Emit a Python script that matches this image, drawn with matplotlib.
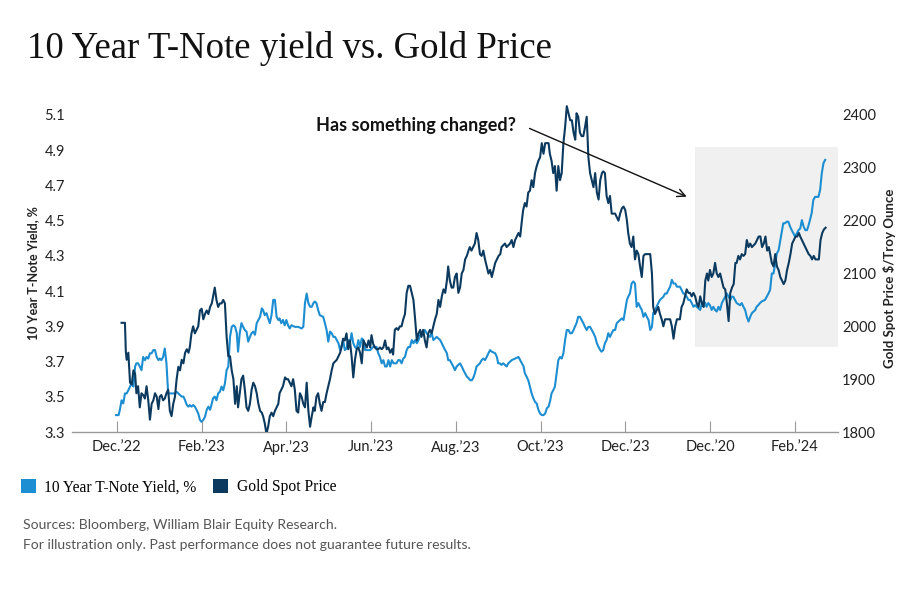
import matplotlib
matplotlib.use("Agg")
import matplotlib.pyplot as plt
from matplotlib.patches import Patch, Rectangle

# months since Dec '22 tick
yield_t = [0.11, 0.19, 0.21, 0.23, 0.27, 0.31, 0.35, 0.39, 0.43, 0.46, 0.50, 0.54, 0.58, 0.62, 0.66, 0.70,
           0.74, 0.78, 0.82, 0.86, 0.90, 0.94, 0.98, 1.01, 1.05, 1.09, 1.13, 1.17, 1.21, 1.25, 1.29, 1.33,
           1.37, 1.41, 1.45, 1.49, 1.53, 1.57, 1.61, 1.65, 1.69, 1.72, 1.76, 1.80, 1.84, 1.88, 1.92, 1.96,
           2.00, 2.04, 2.08, 2.12, 2.16, 2.20, 2.24, 2.27, 2.31, 2.35, 2.39, 2.43, 2.47, 2.51, 2.55, 2.59,
           2.63, 2.67, 2.71, 2.75, 2.79, 2.83, 2.86, 2.90, 2.94, 2.98, 3.02, 3.06, 3.10, 3.14, 3.18, 3.22,
           3.26, 3.30, 3.34, 3.38, 3.42, 3.45, 3.49, 3.53, 3.57, 3.61, 3.65, 3.69, 3.73, 3.77, 3.81, 3.84,
           3.88, 3.92, 3.97, 4.00, 4.04, 4.08, 4.12, 4.16, 4.20, 4.24, 4.28, 4.32, 4.36, 4.40, 4.44, 4.48,
           4.52, 4.56, 4.60, 4.64, 4.67, 4.71, 4.75, 4.79, 4.83, 4.87, 4.91, 4.95, 4.99, 5.03, 5.07, 5.11,
           5.15, 5.19, 5.23, 5.27, 5.30, 5.34, 5.38, 5.42, 5.46, 5.50, 5.54, 5.58, 5.62, 5.66, 5.70, 5.74,
           5.78, 5.82, 5.86, 5.90, 5.94, 5.98, 6.01, 6.05, 6.09, 6.13, 6.17, 6.21, 6.25, 6.29, 6.33, 6.37,
           6.41, 6.45, 6.49, 6.52, 6.56, 6.60, 6.64, 6.68, 6.72, 6.76, 6.80, 6.84, 6.88, 6.92, 6.96, 7.00,
           7.04, 7.08, 7.12, 7.16, 7.19, 7.23, 7.27, 7.31, 7.35, 7.39, 7.43, 7.47, 7.51, 7.55, 7.59, 7.63,
           7.67, 7.71, 7.75, 7.79, 7.82, 7.86, 7.90, 7.94, 7.98, 8.02, 8.06, 8.10, 8.14, 8.18, 8.22, 8.26,
           8.30, 8.33, 8.37, 8.41, 8.45, 8.49, 8.53, 8.57, 8.61, 8.65, 8.69, 8.73, 8.77, 8.81, 8.85, 8.89,
           8.93, 8.97, 9.01, 9.05, 9.08, 9.16, 9.20, 9.28, 9.32, 9.36, 9.40, 9.44, 9.48, 9.52, 9.56, 9.59,
           9.63, 9.67, 9.71, 9.75, 9.79, 9.83, 9.87, 9.91, 9.95, 9.99, 10.03, 10.07, 10.11, 10.15, 10.19, 10.22,
           10.26, 10.30, 10.34, 10.38, 10.42, 10.46, 10.50, 10.54, 10.58, 10.62, 10.66, 10.70, 10.74, 10.78, 10.82, 10.85,
           10.89, 10.93, 10.97, 11.01, 11.05, 11.09, 11.13, 11.17, 11.21, 11.25, 11.29, 11.33, 11.37, 11.41, 11.45, 11.48,
           11.52, 11.56, 11.60, 11.64, 11.68, 11.72, 11.76, 11.80, 11.84, 11.88, 11.92, 11.96, 12.00, 12.04, 12.07, 12.11,
           12.15, 12.19, 12.23, 12.27, 12.31, 12.35, 12.39, 12.43, 12.47, 12.55, 12.59, 12.63, 12.66, 12.70, 12.74, 12.78,
           12.82, 12.86, 12.90, 12.94, 12.98, 13.06, 13.10, 13.14, 13.18, 13.22, 13.29, 13.33, 13.37, 13.41, 13.45, 13.49,
           13.53, 13.57, 13.61, 13.65, 13.69, 13.73, 13.77, 13.81, 13.85, 13.89, 13.93, 13.96, 14.00, 14.04, 14.08, 14.12,
           14.16, 14.20, 14.24, 14.28, 14.32, 14.36, 14.40, 14.44, 14.48, 14.52, 14.56, 14.60, 14.63, 14.67, 14.71, 14.75,
           14.79, 14.83, 14.87, 14.91, 14.95, 14.99, 15.07, 15.15, 15.19, 15.23, 15.27, 15.31, 15.35, 15.39, 15.42, 15.46,
           15.50, 15.54, 15.58, 15.62, 15.66, 15.70, 15.74, 15.78, 15.82, 15.86, 15.90, 15.94, 15.98, 16.02, 16.06, 16.10,
           16.13, 16.17, 16.21, 16.25, 16.29, 16.33, 16.37, 16.41, 16.45, 16.49, 16.57, 16.61, 16.65, 16.69, 16.73]
yield_pct = [3.92, 3.92, 3.76, 3.71, 3.75, 3.58, 3.57, 3.65, 3.63, 3.52, 3.56, 3.44, 3.52, 3.51, 3.49, 3.56,
             3.48, 3.37, 3.46, 3.48, 3.52, 3.50, 3.43, 3.50, 3.51, 3.48, 3.49, 3.52, 3.54, 3.42, 3.39, 3.46,
             3.50, 3.60, 3.67, 3.65, 3.71, 3.69, 3.75, 3.77, 3.75, 3.78, 3.86, 3.90, 3.86, 3.88, 3.90, 3.99,
             4.00, 3.94, 3.97, 3.99, 3.97, 4.01, 4.03, 4.07, 4.12, 4.05, 4.01, 4.03, 4.03, 4.05, 4.03, 3.84,
             3.73, 3.73, 3.65, 3.60, 3.46, 3.56, 3.44, 3.52, 3.60, 3.62, 3.54, 3.44, 3.42, 3.46, 3.54, 3.58,
             3.56, 3.52, 3.46, 3.42, 3.41, 3.39, 3.35, 3.29, 3.33, 3.39, 3.41, 3.39, 3.42, 3.44, 3.46, 3.52,
             3.54, 3.56, 3.61, 3.60, 3.60, 3.58, 3.56, 3.60, 3.54, 3.42, 3.41, 3.52, 3.50, 3.46, 3.44, 3.58,
             3.42, 3.33, 3.39, 3.44, 3.42, 3.50, 3.52, 3.46, 3.42, 3.47, 3.47, 3.52, 3.56, 3.60, 3.65, 3.69,
             3.70, 3.71, 3.73, 3.75, 3.78, 3.83, 3.82, 3.86, 3.77, 3.82, 3.73, 3.61, 3.71, 3.77, 3.78, 3.75,
             3.69, 3.82, 3.80, 3.78, 3.82, 3.78, 3.85, 3.80, 3.78, 3.77, 3.77, 3.78, 3.77, 3.78, 3.82, 3.77,
             3.78, 3.75, 3.77, 3.74, 3.88, 3.89, 3.88, 3.90, 3.90, 3.94, 3.97, 4.09, 4.13, 4.13, 4.09, 4.05,
             3.94, 3.82, 3.86, 3.88, 3.84, 3.88, 3.82, 3.78, 3.86, 3.88, 3.86, 3.90, 3.94, 3.97, 4.05, 4.01,
             4.07, 4.11, 4.09, 4.16, 4.24, 4.16, 4.12, 4.12, 4.18, 4.20, 4.09, 4.12, 4.20, 4.22, 4.28, 4.30,
             4.33, 4.35, 4.33, 4.35, 4.37, 4.43, 4.39, 4.31, 4.30, 4.33, 4.28, 4.24, 4.20, 4.22, 4.18, 4.22,
             4.26, 4.28, 4.30, 4.31, 4.35, 4.37, 4.35, 4.37, 4.39, 4.35, 4.39, 4.41, 4.43, 4.41, 4.50, 4.56,
             4.60, 4.58, 4.66, 4.67, 4.73, 4.69, 4.77, 4.81, 4.84, 4.86, 4.94, 4.88, 4.94, 4.94, 4.94, 4.88,
             4.84, 4.77, 4.81, 4.67, 4.81, 4.73, 4.77, 4.94, 5.03, 5.15, 5.11, 5.07, 5.07, 5.00, 4.96, 5.11,
             5.09, 5.00, 4.98, 4.98, 5.03, 5.09, 4.86, 4.77, 4.73, 4.69, 4.77, 4.66, 4.62, 4.73, 4.77, 4.78,
             4.77, 4.64, 4.60, 4.64, 4.54, 4.54, 4.54, 4.52, 4.50, 4.54, 4.57, 4.58, 4.56, 4.50, 4.43, 4.37,
             4.35, 4.41, 4.28, 4.33, 4.31, 4.24, 4.18, 4.30, 4.31, 4.31, 4.31, 4.20, 4.01, 3.97, 3.99, 4.01,
             3.97, 3.94, 3.90, 3.94, 3.94, 3.94, 3.90, 3.83, 3.90, 3.94, 3.94, 4.01, 4.03, 4.07, 4.11, 4.09,
             4.09, 4.07, 4.09, 4.07, 4.03, 4.01, 4.07, 4.03, 4.01, 4.16, 4.20, 4.16, 4.22, 4.18, 4.20, 4.26,
             4.20, 4.18, 4.20, 4.16, 4.12, 4.11, 4.03, 3.93, 4.09, 4.12, 4.14, 4.26, 4.26, 4.30, 4.28, 4.31,
             4.30, 4.31, 4.39, 4.35, 4.37, 4.35, 4.37, 4.41, 4.41, 4.35, 4.37, 4.41, 4.33, 4.35, 4.31, 4.26,
             4.24, 4.31, 4.24, 4.22, 4.18, 4.16, 4.14, 4.16, 4.22, 4.26, 4.31, 4.37, 4.39, 4.41, 4.41, 4.43,
             4.41, 4.39, 4.37, 4.35, 4.33, 4.31, 4.30, 4.28, 4.30, 4.28, 4.28, 4.39, 4.43, 4.45, 4.46]

gold_t = [-0.02, 0.04, 0.07, 0.11, 0.15, 0.19, 0.23, 0.27, 0.31, 0.35, 0.39, 0.43, 0.46, 0.50, 0.54, 0.58,
          0.62, 0.66, 0.70, 0.74, 0.78, 0.82, 0.86, 0.90, 0.94, 0.98, 1.01, 1.05, 1.09, 1.13, 1.17, 1.21,
          1.29, 1.37, 1.41, 1.45, 1.53, 1.57, 1.61, 1.65, 1.69, 1.72, 1.76, 1.80, 1.84, 1.88, 1.92, 1.96,
          2.00, 2.04, 2.08, 2.12, 2.16, 2.20, 2.24, 2.27, 2.31, 2.35, 2.39, 2.43, 2.47, 2.51, 2.55, 2.59,
          2.63, 2.67, 2.71, 2.75, 2.79, 2.83, 2.86, 2.90, 2.94, 2.98, 3.02, 3.06, 3.10, 3.14, 3.18, 3.22,
          3.26, 3.30, 3.34, 3.38, 3.42, 3.45, 3.49, 3.53, 3.57, 3.61, 3.65, 3.69, 3.73, 3.77, 3.81, 3.84,
          3.88, 3.92, 3.96, 4.00, 4.04, 4.08, 4.12, 4.20, 4.28, 4.36, 4.40, 4.44, 4.48, 4.52, 4.56, 4.60,
          4.64, 4.67, 4.71, 4.75, 4.79, 4.87, 4.91, 4.95, 4.99, 5.03, 5.07, 5.11, 5.15, 5.19, 5.23, 5.27,
          5.30, 5.34, 5.38, 5.42, 5.46, 5.50, 5.54, 5.58, 5.62, 5.66, 5.70, 5.74, 5.78, 5.82, 5.86, 5.90,
          5.98, 6.05, 6.13, 6.17, 6.21, 6.25, 6.29, 6.33, 6.37, 6.41, 6.45, 6.49, 6.53, 6.60, 6.64, 6.68,
          6.72, 6.76, 6.80, 6.84, 6.88, 6.92, 6.96, 7.00, 7.04, 7.08, 7.12, 7.16, 7.19, 7.23, 7.27, 7.31,
          7.39, 7.43, 7.47, 7.55, 7.63, 7.67, 7.71, 7.79, 7.82, 7.86, 7.90, 7.94, 7.98, 8.02, 8.10, 8.14,
          8.18, 8.22, 8.26, 8.30, 8.34, 8.38, 8.41, 8.45, 8.49, 8.57, 8.61, 8.65, 8.69, 8.73, 8.77, 8.81,
          8.85, 8.93, 8.97, 9.00, 9.04, 9.08, 9.12, 9.20, 9.24, 9.32, 9.40, 9.48, 9.52, 9.56, 9.60, 9.63,
          9.67, 9.71, 9.75, 9.79, 9.83, 9.87, 9.91, 9.95, 9.99, 10.03, 10.07, 10.11, 10.15, 10.19, 10.23, 10.26,
          10.30, 10.34, 10.38, 10.42, 10.46, 10.50, 10.54, 10.58, 10.62, 10.66, 10.70, 10.74, 10.78, 10.81, 10.85, 10.89,
          10.93, 10.97, 11.01, 11.05, 11.09, 11.13, 11.17, 11.21, 11.25, 11.29, 11.33, 11.37, 11.41, 11.44, 11.48, 11.52,
          11.56, 11.60, 11.64, 11.68, 11.72, 11.76, 11.80, 11.84, 11.88, 11.92, 11.96, 12.00, 12.04, 12.07, 12.11, 12.15,
          12.19, 12.23, 12.27, 12.31, 12.35, 12.39, 12.43, 12.47, 12.51, 12.55, 12.59, 12.63, 12.66, 12.70, 12.74, 12.78,
          12.82, 12.90, 12.94, 12.98, 13.02, 13.06, 13.10, 13.14, 13.18, 13.22, 13.29, 13.33, 13.37, 13.41, 13.45, 13.49,
          13.53, 13.57, 13.61, 13.65, 13.69, 13.73, 13.77, 13.81, 13.85, 13.89, 13.92, 13.96, 14.00, 14.04, 14.08, 14.12,
          14.16, 14.20, 14.24, 14.28, 14.32, 14.36, 14.40, 14.44, 14.48, 14.51, 14.55, 14.59, 14.63, 14.71, 14.75, 14.79,
          14.83, 14.87, 14.91, 14.95, 14.99, 15.03, 15.07, 15.10, 15.14, 15.18, 15.22, 15.30, 15.34, 15.38, 15.42, 15.46,
          15.50, 15.54, 15.58, 15.62, 15.66, 15.70, 15.73, 15.77, 15.81, 15.85, 15.89, 15.93, 15.97, 16.01, 16.05, 16.09,
          16.13, 16.17, 16.21, 16.25, 16.29, 16.32, 16.36, 16.40, 16.44, 16.48, 16.52, 16.56, 16.60, 16.64, 16.68, 16.72]
gold_usd = [1832, 1832, 1842, 1860, 1854, 1873, 1873, 1879, 1886, 1892, 1886, 1924, 1930, 1930, 1924, 1917,
            1942, 1936, 1942, 1939, 1949, 1949, 1955, 1955, 1942, 1936, 1939, 1936, 1942, 1958, 1930, 1873,
            1873, 1873, 1876, 1873, 1867, 1867, 1860, 1851, 1848, 1851, 1848, 1851, 1848, 1842, 1835, 1823,
            1819, 1823, 1829, 1842, 1848, 1842, 1854, 1864, 1867, 1860, 1873, 1876, 1886, 1879, 1892, 1917,
            1924, 1980, 1999, 2002, 1999, 1987, 1952, 1987, 2006, 1999, 1993, 1990, 1971, 1980, 1987, 1990,
            1984, 2006, 2012, 2018, 2034, 2031, 2021, 2025, 2015, 2006, 2021, 2050, 2050, 2018, 2012, 2015,
            2006, 2012, 2002, 2012, 2002, 1996, 2002, 1999, 1999, 1996, 1999, 2044, 2062, 2044, 2037, 2037,
            2044, 2047, 2044, 2031, 2021, 2018, 2006, 1993, 1971, 1990, 1987, 1980, 1980, 1974, 1968, 1955,
            1961, 1974, 1955, 1958, 1974, 1968, 1987, 1968, 1961, 1958, 1974, 1961, 1977, 1974, 1955, 1955,
            1955, 1961, 1961, 1949, 1942, 1930, 1936, 1924, 1924, 1936, 1924, 1936, 1930, 1930, 1936, 1936,
            1930, 1939, 1942, 1955, 1961, 1961, 1974, 1968, 1974, 1968, 1974, 1984, 1987, 1990, 1993, 1987,
            1980, 1987, 1974, 1980, 1974, 1968, 1961, 1949, 1936, 1936, 1930, 1924, 1917, 1924, 1930, 1924,
            1917, 1911, 1905, 1902, 1898, 1898, 1902, 1911, 1924, 1930, 1936, 1939, 1936, 1942, 1949, 1955,
            1952, 1949, 1942, 1930, 1930, 1927, 1930, 1924, 1930, 1936, 1939, 1942, 1936, 1930, 1924, 1911,
            1905, 1898, 1886, 1873, 1864, 1857, 1854, 1842, 1835, 1832, 1832, 1835, 1845, 1848, 1860, 1873,
            1879, 1886, 1911, 1936, 1942, 1939, 1949, 1974, 1993, 1993, 1987, 1987, 1993, 1999, 2006, 2018,
            2018, 2012, 2006, 1999, 1993, 1999, 1999, 1993, 1987, 1980, 1968, 1961, 1955, 1952, 1955, 1968,
            1974, 1987, 1980, 1987, 1993, 1993, 2006, 2009, 2012, 2015, 2012, 2031, 2050, 2056, 2062, 2081,
            2085, 2081, 2037, 2044, 2037, 2031, 2018, 2025, 2018, 2012, 1993, 1999, 2025, 2031, 2037, 2044,
            2050, 2056, 2062, 2062, 2069, 2075, 2088, 2081, 2081, 2075, 2075, 2069, 2062, 2062, 2056, 2050,
            2050, 2044, 2037, 2040, 2037, 2034, 2031, 2044, 2047, 2044, 2037, 2044, 2040, 2031, 2037, 2031,
            2028, 2037, 2031, 2044, 2050, 2056, 2062, 2056, 2050, 2056, 2056, 2050, 2044, 2040, 2044, 2037,
            2031, 2018, 2009, 2018, 2025, 2028, 2031, 2037, 2040, 2044, 2047, 2050, 2056, 2062, 2069, 2100,
            2100, 2119, 2138, 2144, 2163, 2182, 2195, 2195, 2198, 2198, 2189, 2182, 2176, 2170, 2176, 2182,
            2185, 2201, 2189, 2182, 2182, 2189, 2201, 2214, 2239, 2245, 2245, 2245, 2258, 2290, 2309, 2315]

tick_pos = [0, 2, 4, 6, 8, 10, 12, 14, 16]
tick_labels = ["Dec.\u201922", "Feb.\u201923", "Apr.\u201923", "Jun.\u201923", "Aug.\u201923",
               "Oct.\u201923", "Dec.\u201923", "Dec.\u201920", "Feb.\u201924"]
yield_ticks = [3.3, 3.5, 3.7, 3.9, 4.1, 4.3, 4.5, 4.7, 4.9, 5.1]
gold_ticks = [1800, 1900, 2000, 2100, 2200, 2300, 2400]

light = "#1d8ed1"
dark = "#0c3a5f"
sans = "Lato"
serif = "Liberation Serif"

fig = plt.figure(figsize=(9, 6), dpi=100)
ax = fig.add_axes([0.08, 0.28, 0.851, 0.5577])
ax2 = ax.twinx()

# the gold line sits under the yield line
ax.set_zorder(ax2.get_zorder() + 1)
ax.patch.set_visible(False)

ax2.add_patch(Rectangle((13.65, 1961), 3.4, 378, facecolor="#f0f0f0", edgecolor="none", zorder=0))
ax2.plot(gold_t, gold_usd, color=light, lw=1.5, zorder=2)
ax.plot(yield_t, yield_pct, color=dark, lw=1.5, zorder=3)

ax.set_xlim(-1.06, 17.02)
ax.set_ylim(3.3, 5.2)
ax2.set_ylim(1800, 2433.3)

ax.set_xticks(tick_pos)
ax.set_xticklabels(tick_labels, fontsize=10.5, family=sans, color="#222222")
ax.set_yticks(yield_ticks)
ax.set_yticklabels([f"{v:.1f}" for v in yield_ticks], fontsize=10.5, family=sans, color="#222222")
ax2.set_yticks(gold_ticks)
ax2.set_yticklabels([str(v) for v in gold_ticks], fontsize=10.5, family=sans, color="#222222")

for a in (ax, ax2):
    for s in ("top", "left", "right"):
        a.spines[s].set_visible(False)
    a.spines["bottom"].set_color("#999999")
    a.spines["bottom"].set_linewidth(1.0)
ax2.spines["bottom"].set_visible(False)
ax.tick_params(axis="x", direction="in", length=8, width=0.8, color="#999999", pad=6)
ax.tick_params(axis="y", length=0, pad=5)
ax2.tick_params(axis="y", length=0, pad=3)

fig.text(33 / 900, 1 - 273 / 600, "10 Year T-Note Yield, %", rotation=90, ha="center", va="center",
         fontsize=9, fontweight="bold", family=sans, color="#222222")
fig.text(889 / 900, 1 - 278 / 600, "Gold Spot Price $/Troy Ounce", rotation=90, ha="center", va="center",
         fontsize=9.5, fontweight="bold", family=sans, color="#222222")

# annotation
ax.text(4.70, 5.04, "Has something changed?", fontsize=13, fontweight="bold", family=sans,
        color="#111111", ha="left", va="center")
ax.annotate("", xy=(13.51, 4.63), xytext=(9.68, 5.03),
            arrowprops=dict(arrowstyle="->", color="#111111", lw=1.0, mutation_scale=14))

fig.text(27 / 900, 1 - 48 / 600, "10 Year T-Note yield vs. Gold Price", fontsize=26.5, family=serif,
         color="#111111", ha="left", va="center")

handles = [Patch(facecolor=light, edgecolor="none"), Patch(facecolor=dark, edgecolor="none")]
fig.legend(handles, ["10 Year T-Note Yield, %", "Gold Spot Price"], loc="center left",
           bbox_to_anchor=(13 / 900, 1 - 487 / 600), ncol=2, frameon=False, handlelength=0.95,
           handleheight=1.05, handletextpad=0.55, columnspacing=1.1, borderpad=0,
           prop=dict(family=serif, size=11.2))

fig.text(23 / 900, 1 - 525 / 600, "Sources: Bloomberg, William Blair Equity Research.", fontsize=10.1,
         family=sans, color="#555555", ha="left", va="center")
fig.text(23 / 900, 1 - 545 / 600, "For illustration only. Past performance does not guarantee future results.",
         fontsize=10.1, family=sans, color="#555555", ha="left", va="center")

fig.savefig("out.png", dpi=100)
